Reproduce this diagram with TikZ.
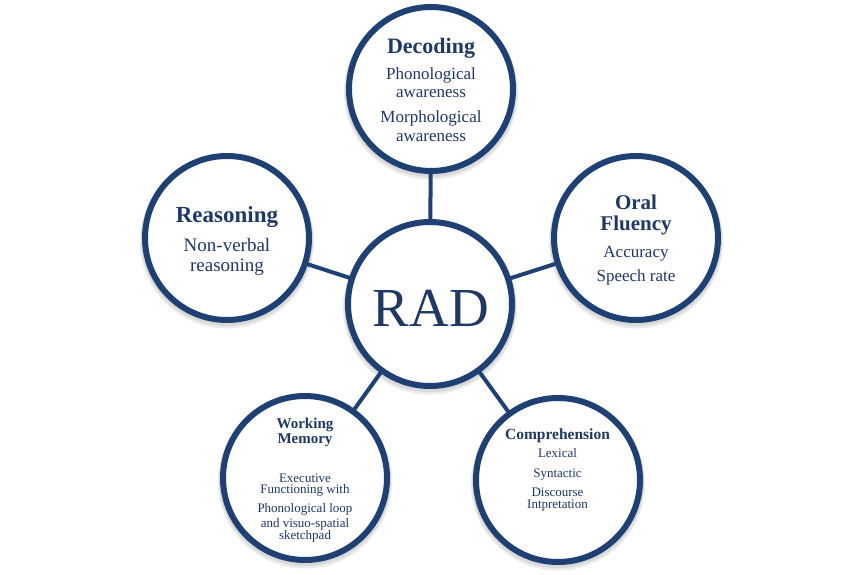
\documentclass[tikz,border=0pt]{standalone}
\usepackage{fontspec}
\setmainfont{Liberation Serif}
\usetikzlibrary{backgrounds}
\definecolor{navy}{RGB}{30,64,114}
\definecolor{ink}{RGB}{31,56,100}
\tikzset{
  bubble/.style={circle, draw=navy, line width=6pt, fill=white, minimum size=164pt, inner sep=0pt},
  link/.style={draw=navy, line width=4pt},
  shade1/.style={fill=black, opacity=0.08},
  ln/.style={anchor=base, text=ink, inner sep=0pt, outer sep=0pt},
  fs/.style={font=\fontsize{#1}{#1}\selectfont},
  fb/.style={font=\bfseries\fontsize{#1}{#1}\selectfont}
}
\begin{document}
\begin{tikzpicture}[x=1pt,y=-1pt]
\useasboundingbox (0,0) rectangle (862,575);
% circles
\node[bubble] (rad) at (430,304) {};
\node[bubble] (dec) at (431,89) {};
\node[bubble] (rea) at (227,238) {};
\node[bubble] (ora) at (636,238) {};
\node[bubble] (wor) at (305,478) {};
\node[bubble] (com) at (558,480) {};
\begin{pgfonlayer}{background}
% soft shadows
\foreach \cx/\cy in {430/304,431/89,227/238,636/238,305/478,558/480}{
  \fill[shade1] (\cx,\cy+3.5) circle (87pt);
  \fill[shade1] (\cx,\cy+2) circle (86pt);
}
% connectors
\draw[link] (rad.center) -- (dec.center);
\draw[link] (rad.center) -- (rea.center);
\draw[link] (rad.center) -- (ora.center);
\draw[link] (rad.center) -- (wor.center);
\draw[link] (rad.center) -- (com.center);
\end{pgfonlayer}
% RAD
\node[ln, fs=55] (radt) at (431,326) {RAD};
% Decoding
\node[ln, fb=22] (d0) at (431,54) {Decoding};
\node[ln, fs=17] (d1) at (431,80) {Phonological};
\node[ln, fs=17] (d2) at (431,98) {awareness};
\node[ln, fs=17] (d3) at (431,123) {Morphological};
\node[ln, fs=17] (d4) at (431,142) {awareness};
% Reasoning
\node[ln, fb=23] (r0) at (227,222) {Reasoning};
\node[ln, fs=19] (r1) at (227,251) {Non-verbal};
\node[ln, fs=19] (r2) at (227,271) {reasoning};
% Oral Fluency
\node[ln, fb=21] (o0) at (636,209) {Oral};
\node[ln, fb=21] (o1) at (636,230) {Fluency};
\node[ln, fs=17] (o2) at (636,257) {Accuracy};
\node[ln, fs=17] (o3) at (636,281) {Speech rate};
% Working Memory
\node[ln, fb=15] (w0) at (305,428) {Working};
\node[ln, fb=15] (w1) at (305,443) {Memory};
\node[ln, fs=13] (w2) at (305,482) {Executive};
\node[ln, fs=13] (w3) at (305,493.5) {Functioning with};
\node[ln, fs=13] (w4) at (305,512) {Phonological loop};
\node[ln, fs=13] (w5) at (305,527) {and visuo-spatial};
\node[ln, fs=13] (w6) at (305,539) {sketchpad};
% Comprehension
\node[ln, fb=15.5] (c0) at (557.5,439) {Comprehension};
\node[ln, fs=13] (c1) at (557.5,457) {Lexical};
\node[ln, fs=13] (c2) at (557.5,477) {Syntactic};
\node[ln, fs=13] (c3) at (557.5,496) {Discourse};
\node[ln, fs=13] (c4) at (557.5,508) {Intpretation};
\end{tikzpicture}
\end{document}
